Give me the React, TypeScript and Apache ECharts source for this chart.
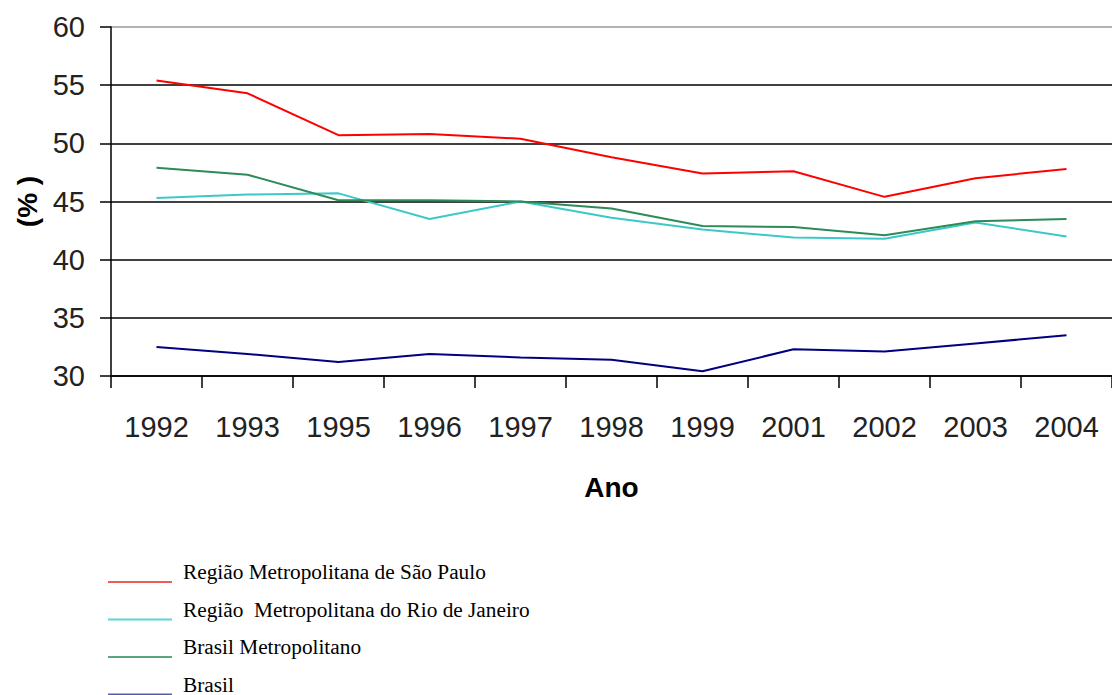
import React, { useEffect, useRef } from "react";
import * as echarts from "echarts";

const years = ["1992", "1993", "1995", "1996", "1997", "1998", "1999", "2001", "2002", "2003", "2004"];
const saoPaulo = [55.4, 54.3, 50.7, 50.8, 50.4, 48.8, 47.4, 47.6, 45.4, 47.0, 47.8];
const rioDeJaneiro = [45.3, 45.6, 45.7, 43.5, 45.0, 43.6, 42.6, 41.9, 41.8, 43.2, 42.0];
const brasilMetropolitano = [47.9, 47.3, 45.1, 45.1, 45.0, 44.4, 42.9, 42.8, 42.1, 43.3, 43.5];
const brasil = [32.5, 31.9, 31.2, 31.9, 31.6, 31.4, 30.4, 32.3, 32.1, 32.8, 33.5];

const seriesNames = [
  "Região Metropolitana de São Paulo",
  "Região  Metropolitana do Rio de Janeiro",
  "Brasil Metropolitano",
  "Brasil",
];
const seriesColors = ["#ff0000", "#3cc8c8", "#2e8b57", "#000080"];
const legendColors = ["#f05a5a", "#5ad6d6", "#5aa67e", "#5a5aaa"];

// underline-style legend icon: invisible dot at top, bar at bottom
const underlineIcon = "path://M0,0 L0.01,0 L0.01,0.01 Z M0,20 L64,20 L64,22 L0,22 Z";

export default function App() {
  const ref = useRef<HTMLDivElement>(null);
  useEffect(() => {
    if (!ref.current) return;
    const chart = echarts.init(ref.current, null, { renderer: "svg" });
    const data = [saoPaulo, rioDeJaneiro, brasilMetropolitano, brasil];
    chart.setOption({
      animation: false,
      backgroundColor: "#ffffff",
      grid: { left: 111, top: 27, right: -11, bottom: 344, containLabel: false },
      legend: {
        orient: "vertical",
        left: 108,
        top: 561,
        padding: 0,
        icon: underlineIcon,
        itemWidth: 64,
        itemHeight: 22,
        itemGap: 15.5,
        selectedMode: false,
        textStyle: {
          fontFamily: "'Liberation Serif', 'DejaVu Serif', serif",
          fontSize: 21.3,
          color: "#000",
          lineHeight: 20,
          padding: [0, 0, 0, 6],
        },
        data: seriesNames.map((n, i) => ({ name: n, itemStyle: { color: legendColors[i] } })),
      },
      xAxis: {
        type: "category",
        data: years,
        boundaryGap: true,
        name: "Ano",
        nameLocation: "middle",
        nameGap: 97,
        nameTextStyle: {
          fontFamily: "'Liberation Sans', Arial, sans-serif",
          fontSize: 28,
          fontWeight: "bold",
          color: "#000",
        },
        axisLine: { show: true, lineStyle: { color: "#000", width: 1.5 } },
        axisTick: { show: true, length: 12, lineStyle: { color: "#000", width: 1.5 } },
        axisLabel: {
          margin: 36,
          fontFamily: "'Liberation Sans', Arial, sans-serif",
          fontSize: 29,
          color: "#222",
          interval: 0,
        },
        splitLine: { show: false },
      },
      yAxis: {
        type: "value",
        min: 30,
        max: 60,
        interval: 5,
        name: "(% )",
        nameLocation: "middle",
        nameGap: 68,
        nameRotate: 90,
        nameTextStyle: {
          fontFamily: "'Liberation Sans', Arial, sans-serif",
          fontSize: 28,
          fontWeight: "bold",
          color: "#000",
        },
        axisLine: { show: true, lineStyle: { color: "#000", width: 1.5 } },
        axisTick: { show: true, length: 11, lineStyle: { color: "#000", width: 1.5 } },
        axisLabel: {
          margin: 26,
          fontFamily: "'Liberation Sans', Arial, sans-serif",
          fontSize: 29,
          color: "#222",
        },
        splitLine: {
          show: true,
          lineStyle: {
            color: ["#000", "#000", "#000", "#000", "#000", "#000", "#999"],
            width: 1.5,
          },
        },
      },
      series: data.map((d, i) => ({
        name: seriesNames[i],
        type: "line",
        data: d,
        symbol: "none",
        showSymbol: false,
        smooth: false,
        lineStyle: { color: seriesColors[i], width: 2 },
        itemStyle: { color: seriesColors[i] },
      })),
    });
    return () => chart.dispose();
  }, []);
  return (
    <div
      style={{ position: "absolute", left: 0, top: 0, width: 1112, height: 695, overflow: "hidden", background: "#fff" }}
    >
      <div ref={ref} style={{ width: 1112, height: 720 }} />
    </div>
  );
}
